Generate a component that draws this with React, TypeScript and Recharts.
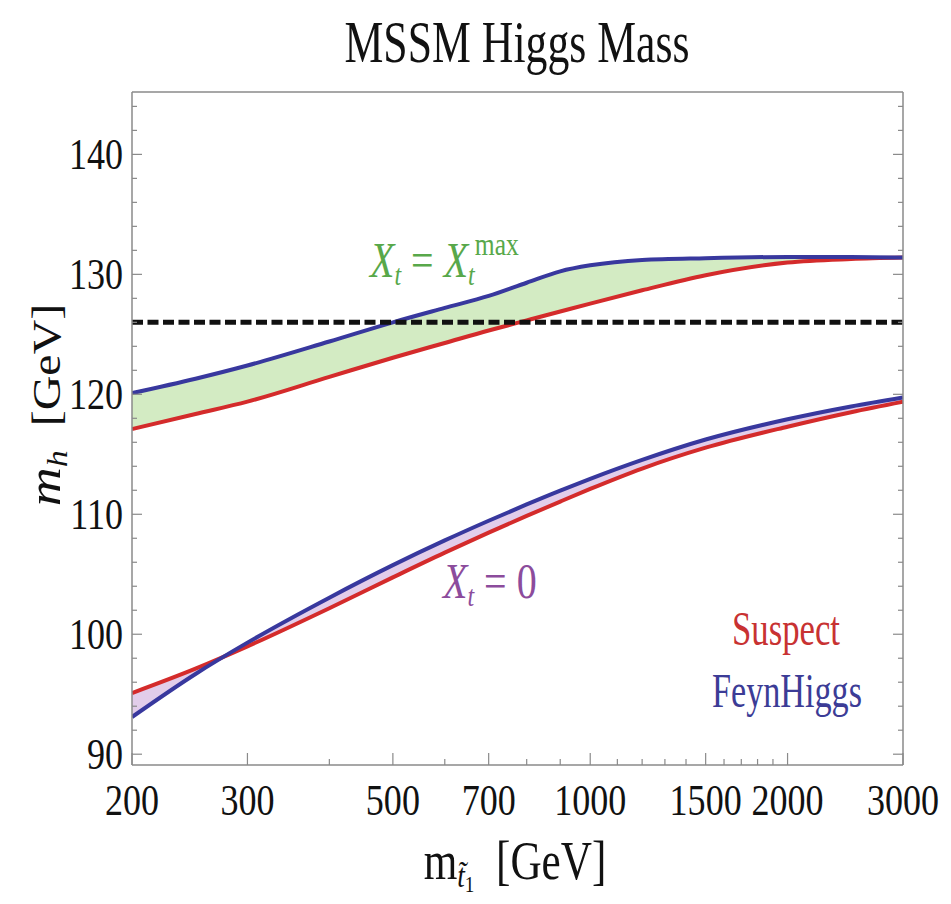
import React from 'react';
import { ComposedChart, Area, Line, XAxis, YAxis, ReferenceLine } from 'recharts';

// stop mass grid (GeV) and Higgs mass
const stopMass = [200, 250, 300, 400, 500, 600, 700, 800, 900, 1000, 1200, 1500, 2000, 2500, 3000];
const suspectXtMax = [117.1, 118.36, 119.39, 121.45, 123.05, 124.28, 125.32, 126.16, 126.9, 127.56, 128.67, 129.93, 130.99, 131.28, 131.4];
const feynHiggsXtMax = [120.1, 121.3, 122.4, 124.4, 126.0, 127.2, 128.2, 129.3, 130.25, 130.75, 131.2, 131.35, 131.45, 131.45, 131.4];
const suspectXt0 = [95.1, 97.13, 98.99, 102.17, 104.74, 106.8, 108.47, 109.86, 111.06, 112.11, 113.81, 115.55, 117.3, 118.51, 119.38];
const feynHiggsXt0 = [93.1, 96.69, 99.3, 103.05, 105.76, 107.82, 109.46, 110.82, 111.97, 112.95, 114.53, 116.23, 117.92, 118.99, 119.74];
const higgsObserved = 126;

const xMajorTicks = [200, 300, 500, 700, 1000, 1500, 2000, 3000];
const xMinorTicks = [400, 600, 800, 900, 1100, 1200, 1300, 1400, 1600, 1700, 1800, 1900];
const yMajorTicks = [90, 100, 110, 120, 130, 140];
const yMinorTicks = [92, 94, 96, 98, 102, 104, 106, 108, 112, 114, 116, 118, 122, 124, 126, 128, 132, 134, 136, 138, 142, 144];

const FONT = '"Liberation Serif", "Times New Roman", serif';
const RED = '#d42b2b';
const BLUE = '#38389e';
const FRAME = '#8a8a8a';

const xTicks = [...xMajorTicks, ...xMinorTicks].sort((a, b) => a - b);
const yTicks = [...yMajorTicks, ...yMinorTicks].sort((a, b) => a - b);

// ticks point into the frame, like Mathematica
const renderTick = (props: any, side: 'bottom' | 'top' | 'left' | 'right') => {
  const { x, y, payload } = props;
  const v = payload.value;
  const horiz = side === 'bottom' || side === 'top';
  const major = horiz ? xMajorTicks.includes(v) : yMajorTicks.includes(v);
  const len = horiz ? (major ? 12 : 6) : major ? 10 : 5;
  let line;
  if (side === 'bottom') line = <line x1={x} y1={y} x2={x} y2={y - len} />;
  else if (side === 'top') line = <line x1={x} y1={y} x2={x} y2={y + len} />;
  else if (side === 'left') line = <line x1={x} y1={y} x2={x + len} y2={y} />;
  else line = <line x1={x} y1={y} x2={x - len} y2={y} />;
  return (
    <g>
      <g stroke={FRAME} strokeWidth={1.2}>{line}</g>
      {major && side === 'bottom' && (
        <text transform={`translate(${x},${y + 50}) scale(0.82,1)`} textAnchor="middle" fontSize={44} fontFamily={FONT} fill="#111">
          {v}
        </text>
      )}
      {major && side === 'left' && (
        <text transform={`translate(${x - 9},${y + 15}) scale(0.82,1)`} textAnchor="end" fontSize={44} fontFamily={FONT} fill="#111">
          {v}
        </text>
      )}
    </g>
  );
};

export default function App() {
  const data = stopMass.map((m, i) => ({
    m,
    sMax: suspectXtMax[i],
    fMax: feynHiggsXtMax[i],
    s0: suspectXt0[i],
    f0: feynHiggsXt0[i],
  }));

  const xCommon = {
    type: 'number' as const,
    scale: 'log' as const,
    domain: [200, 3000],
    allowDataOverflow: true,
    ticks: xTicks,
    interval: 0,
    tickSize: 0,
    tickMargin: 0,
    tickLine: false,
    axisLine: { stroke: FRAME, strokeWidth: 1.5 },
  };
  const yCommon = {
    type: 'number' as const,
    domain: [89.1, 145.2],
    allowDataOverflow: true,
    ticks: yTicks,
    interval: 0,
    tickSize: 0,
    tickMargin: 0,
    tickLine: false,
    axisLine: { stroke: FRAME, strokeWidth: 1.5 },
  };

  return (
    <div style={{ position: 'absolute', left: 0, top: 0, width: 951, height: 904, background: '#fff' }}>
      <ComposedChart width={951} height={904} data={data} margin={{ top: 91, right: 47, bottom: 79, left: 32 }}>
        <XAxis xAxisId="b" dataKey="m" {...xCommon} height={60} tick={(p: any) => renderTick(p, 'bottom')} />
        <XAxis xAxisId="t" orientation="top" {...xCommon} height={1} tick={(p: any) => renderTick(p, 'top')} />
        <YAxis yAxisId="l" {...yCommon} width={100} tick={(p: any) => renderTick(p, 'left')} />
        <YAxis yAxisId="r" orientation="right" {...yCommon} width={1} tick={(p: any) => renderTick(p, 'right')} />

        <Area xAxisId="b" yAxisId="l" type="monotone" dataKey={(d: any) => [d.sMax, d.fMax]} fill="#d3ebc3" fillOpacity={1} stroke="none" isAnimationActive={false} />
        <Area xAxisId="b" yAxisId="l" type="monotone" dataKey={(d: any) => [d.s0, d.f0]} fill="#e2cdea" fillOpacity={1} stroke="none" isAnimationActive={false} />

        <Line xAxisId="b" yAxisId="l" type="monotone" dataKey="sMax" stroke={RED} strokeWidth={4} dot={false} isAnimationActive={false} />
        <Line xAxisId="b" yAxisId="l" type="monotone" dataKey="fMax" stroke={BLUE} strokeWidth={4} dot={false} isAnimationActive={false} />
        <Line xAxisId="b" yAxisId="l" type="monotone" dataKey="s0" stroke={RED} strokeWidth={4} dot={false} isAnimationActive={false} />
        <Line xAxisId="b" yAxisId="l" type="monotone" dataKey="f0" stroke={BLUE} strokeWidth={4} dot={false} isAnimationActive={false} />

        <ReferenceLine xAxisId="b" yAxisId="l" y={higgsObserved} stroke="#111" strokeWidth={5} strokeDasharray="11 4.5" />
      </ComposedChart>

      <svg width={951} height={904} style={{ position: 'absolute', left: 0, top: 0, pointerEvents: 'none' }} fontFamily={FONT}>
        <text x={517} y={62} textAnchor="middle" fontSize={60} textLength={345} lengthAdjust="spacingAndGlyphs" fill="#111">
          MSSM Higgs Mass
        </text>

        <text transform="translate(60,405) scale(0.85,1) rotate(-90)" textAnchor="middle" fontSize={48} fill="#111">
          <tspan fontStyle="italic" fontSize={54}>m</tspan>
          <tspan fontStyle="italic" fontSize={34} dy={8}>h</tspan>
          <tspan dy={-8}>{'\u00a0\u00a0[GeV]'}</tspan>
        </text>

        <text transform="translate(515,879) scale(0.8,1)" textAnchor="middle" fontSize={54} fill="#111">
          <tspan>m</tspan>
          <tspan fontStyle="italic" fontSize={34} dy={8}>{'t\u0303'}</tspan>
          <tspan fontSize={24} dy={5}>1</tspan>
          <tspan fontSize={54} dy={-13}>{'\u00a0\u00a0[GeV]'}</tspan>
        </text>

        <text transform="translate(370,277) scale(0.8,1)" fontSize={50} fill="#58a84a">
          <tspan fontStyle="italic">X</tspan>
          <tspan fontStyle="italic" fontSize={30} dy={8}>t</tspan>
          <tspan dy={-8}>{'\u00a0=\u00a0'}</tspan>
          <tspan fontStyle="italic">X</tspan>
          <tspan fontStyle="italic" fontSize={30} dy={8}>t</tspan>
          <tspan fontSize={32} dy={-30}>max</tspan>
        </text>

        <text transform="translate(443,598) scale(0.8,1)" fontSize={50} fill="#8c4c9c">
          <tspan fontStyle="italic">X</tspan>
          <tspan fontStyle="italic" fontSize={30} dy={8}>t</tspan>
          <tspan dy={-8}>{'\u00a0=\u00a00'}</tspan>
        </text>

        <text x={786} y={645} textAnchor="middle" fontSize={48} textLength={108} lengthAdjust="spacingAndGlyphs" fill="#c83232">
          Suspect
        </text>
        <text x={787} y={707} textAnchor="middle" fontSize={48} textLength={150} lengthAdjust="spacingAndGlyphs" fill="#3c3c96">
          FeynHiggs
        </text>
      </svg>
    </div>
  );
}
